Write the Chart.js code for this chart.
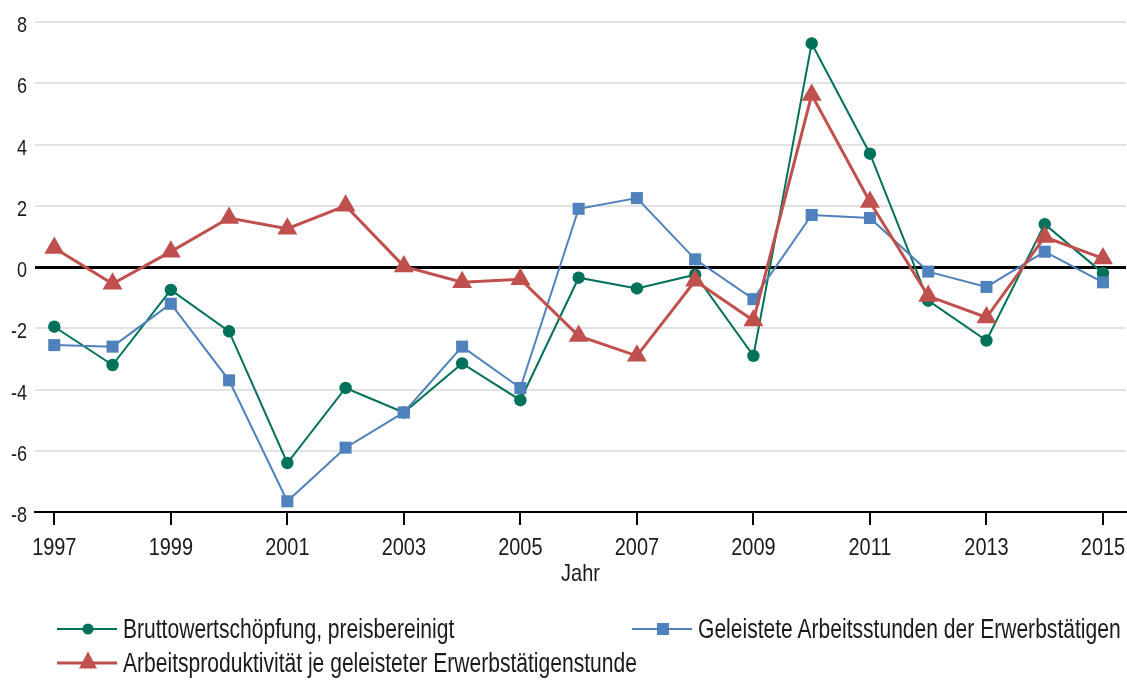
<!DOCTYPE html>
<html>
<head>
<meta charset="utf-8">
<script src="https://cdn.jsdelivr.net/npm/chart.js@4/dist/chart.umd.min.js"></script>
<style>
  body { margin: 0; background: #fff; }
  .wrap { position: relative; width: 1127px; height: 600px; }
  .legend { position: absolute; left: 0; top: 0; width: 1127px; height: 680px; pointer-events: none; }
  .item { position: absolute; height: 30px; }
  .ln { position: absolute; left: 0; width: 60px; top: 15px; transform: translateY(-50%); }
  .mk { position: absolute; left: 31px; top: 15px; transform: translate(-50%, -50%); }
  .txt { position: absolute; left: 66px; top: 0; line-height: 30px; white-space: nowrap;
         font-family: "Liberation Sans", Arial, sans-serif; font-size: 27px; color: #1a1a1a;
         transform: scaleX(0.78); transform-origin: left center; }
</style>
</head>
<body>
<div class="wrap"><canvas id="myChart"></canvas></div>
<div class="legend" id="legend"></div>
<script>
const years = [1997, 1998, 1999, 2000, 2001, 2002, 2003, 2004, 2005, 2006, 2007, 2008, 2009, 2010, 2011, 2012, 2013, 2014, 2015];
const xTicks = [1997, 1999, 2001, 2003, 2005, 2007, 2009, 2011, 2013, 2015];
const yTicks = [-8, -6, -4, -2, 0, 2, 4, 6, 8];

const wertschoepfung = [-1.95, -3.2, -0.75, -2.1, -6.4, -3.95, -4.75, -3.15, -4.35, -0.35, -0.7, -0.25, -2.9, 7.3, 3.7, -1.1, -2.4, 1.4, -0.2];
const arbeitsstunden = [-2.55, -2.6, -1.2, -3.7, -7.65, -5.9, -4.75, -2.6, -3.95, 1.9, 2.25, 0.25, -1.05, 1.7, 1.6, -0.15, -0.65, 0.5, -0.5];
const produktivitaet = [0.62, -0.55, 0.5, 1.6, 1.25, 2.0, 0.02, -0.5, -0.4, -2.25, -2.9, -0.45, -1.75, 5.62, 2.12, -0.95, -1.65, 0.98, 0.28];

const labels = ['Bruttowertschöpfung, preisbereinigt', 'Geleistete Arbeitsstunden der Erwerbstätigen', 'Arbeitsproduktivität je geleisteter Erwerbstätigenstunde'];
const colors = ['#00715a', '#4f81bd', '#c0504d'];
const xTitle = 'Jahr';

const toPoints = arr => arr.map((v, i) => ({ x: years[i], y: v }));

// Arial Narrow isn't there, so squeeze Liberation Sans horizontally
function narrowText(c, text, x, y, size, squeeze, align) {
    c.save();
    c.translate(x, y);
    c.scale(squeeze, 1);
    c.font = size + 'px "Liberation Sans", Arial, sans-serif';
    c.fillStyle = '#1a1a1a';
    c.textAlign = align;
    c.textBaseline = 'alphabetic';
    c.fillText(text, 0, 0);
    c.restore();
}

const narrowLabels = {
    id: 'narrowLabels',
    afterDraw(chart) {
        const c = chart.ctx;
        const xs = chart.scales.x;
        const ys = chart.scales.y;
        yTicks.forEach(v => narrowText(c, String(v), ys.right - 8, ys.getPixelForValue(v) + 10, 22, 0.82, 'right'));
        xTicks.forEach(v => narrowText(c, String(v), xs.getPixelForValue(v), xs.top + 43, 24, 0.83, 'center'));
        narrowText(c, xTitle, (xs.left + xs.right) / 2, xs.top + 69, 24, 0.83, 'center');
    }
};

const ctx = document.getElementById('myChart');
let myChart = new Chart(ctx, {
    type: 'line',
    data: {
        datasets: [{
            label: labels[0],
            data: toPoints(wertschoepfung),
            borderColor: colors[0],
            backgroundColor: colors[0],
            borderWidth: 2,
            pointStyle: 'circle',
            pointRadius: 6.2,
            pointBorderWidth: 0,
            order: 3
        }, {
            label: labels[1],
            data: toPoints(arbeitsstunden),
            borderColor: colors[1],
            backgroundColor: colors[1],
            borderWidth: 2,
            pointStyle: 'rect',
            pointRadius: 8.5,
            pointBorderWidth: 0,
            order: 2
        }, {
            label: labels[2],
            data: toPoints(produktivitaet),
            borderColor: colors[2],
            backgroundColor: colors[2],
            borderWidth: 3,
            pointStyle: 'triangle',
            pointRadius: 11.5,
            pointBorderWidth: 0,
            order: 1
        }]
    },
    options: {
        responsive: true,
        maintainAspectRatio: false,
        animation: false,
        layout: { autoPadding: false, padding: { top: 22, right: 1, left: 0, bottom: 0 } },
        plugins: { legend: { display: false }, tooltip: { enabled: false } },
        scales: {
            x: {
                type: 'linear',
                min: 1996.669,
                max: 2015.395,
                afterBuildTicks: scale => { scale.ticks = xTicks.map(v => ({ value: v })); },
                afterFit: scale => { scale.height = 88; scale.paddingLeft = 0; scale.paddingRight = 0; },
                grid: { drawOnChartArea: false, drawTicks: true, tickLength: 13, color: '#000', lineWidth: 2 },
                border: { display: true, color: '#000', width: 2 },
                ticks: { display: false }
            },
            y: {
                min: -8,
                max: 8,
                afterBuildTicks: scale => { scale.ticks = yTicks.map(v => ({ value: v })); },
                afterFit: scale => { scale.width = 35; scale.paddingTop = 0; scale.paddingBottom = 0; },
                grid: {
                    drawTicks: false,
                    color: c => c.tick && c.tick.value === 0 ? '#000' : '#e2e2e2',
                    lineWidth: c => c.tick && c.tick.value === 0 ? 3 : 2
                },
                border: { display: false },
                ticks: { display: false }
            }
        }
    },
    plugins: [narrowLabels]
});

// legend as html, placed like the original
const legendItems = [
    { left: 57, top: 614, marker: 'circle', lw: 2 },
    { left: 632, top: 614, marker: 'rect', lw: 2 },
    { left: 57, top: 648, marker: 'triangle', lw: 3 }
];
const legend = document.getElementById('legend');
legendItems.forEach((it, i) => {
    const div = document.createElement('div');
    div.className = 'item';
    div.style.left = it.left + 'px';
    div.style.top = it.top + 'px';
    let mk = '';
    if (it.marker === 'circle') mk = `<div class="mk" style="width:11px;height:11px;border-radius:50%;background:${colors[i]}"></div>`;
    if (it.marker === 'rect') mk = `<div class="mk" style="width:12px;height:12px;background:${colors[i]}"></div>`;
    if (it.marker === 'triangle') mk = `<div class="mk" style="width:0;height:0;border-left:9px solid transparent;border-right:9px solid transparent;border-bottom:17px solid ${colors[i]};margin-top:-3px"></div>`;
    div.innerHTML = `<div class="ln" style="height:${it.lw}px;background:${colors[i]}"></div>${mk}<div class="txt">${labels[i]}</div>`;
    legend.appendChild(div);
});
</script>
</body>
</html>
